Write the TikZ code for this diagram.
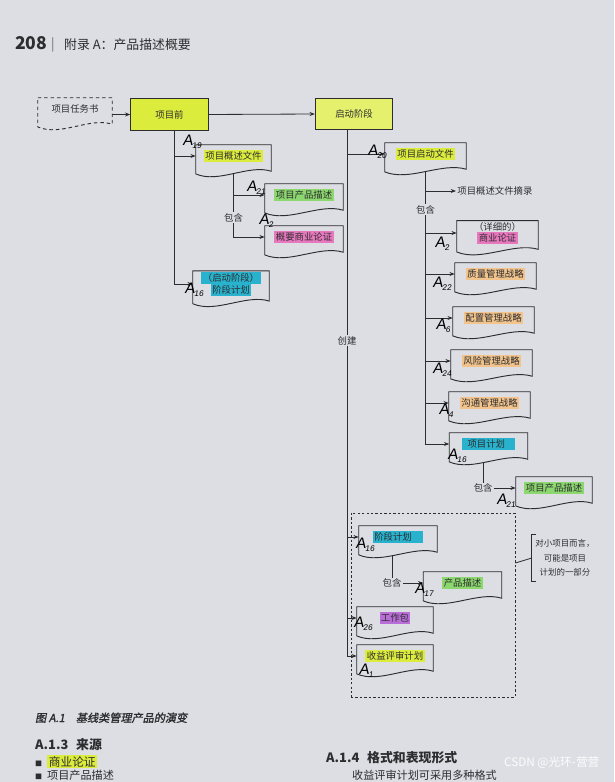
\documentclass[tikz,border=0pt]{standalone}
\usepackage{fontspec}
\setmainfont{Noto Sans CJK SC}
\newfontfamily\handfont[FakeSlant=0.15]{Liberation Sans}
\newfontfamily\capfont[FakeSlant=0.2,FakeBold=1.5]{Noto Sans CJK SC}
\usepackage{xcolor}
\usetikzlibrary{arrows.meta,positioning,fit,calc}

\definecolor{page}{RGB}{221,222,227}
\definecolor{ink}{RGB}{45,45,48}
\definecolor{hlyel}{RGB}{220,236,60}
\definecolor{hlgrn}{RGB}{140,215,110}
\definecolor{hlpnk}{RGB}{232,120,190}
\definecolor{hlcyn}{RGB}{40,178,205}
\definecolor{hlorg}{RGB}{242,196,140}
\definecolor{hlvio}{RGB}{185,110,215}

\newcommand\hlt[2]{{\setlength{\fboxsep}{1.2pt}\colorbox{#1}{#2}}}
\newcommand\hw[1]{{\handfont\fontsize{13}{13}\selectfont A\kern-0.5pt\raisebox{-0.35ex}{\fontsize{7}{7}\selectfont #1}}}

\begin{document}
\begin{tikzpicture}[
    x=0.3mm, y=-0.3mm,
    font=\fontsize{8}{10}\selectfont,
    doc/.style={minimum width=23.4mm, minimum height=6.6mm, inner sep=1pt, align=center, text=ink},
    docframe/.style={draw=ink, line width=0.8pt},
    proc/.style={draw=ink, line width=0.8pt, fill=hlyel, minimum width=23.2mm, minimum height=9.4mm, text=ink},
    link/.style={draw=ink, line width=0.7pt},
    arrow/.style={link, -{Stealth[length=1.6mm, width=1.2mm]}},
    lbl/.style={fill=page, inner sep=1pt, text=ink},
    hand/.style={inner sep=0pt, text=black},
    smallbox/.style={draw=ink, line width=0.8pt, dash pattern=on 2pt off 1.8pt, inner sep=0pt},
    note/.style={align=center, font=\fontsize{7.2}{12.6}\selectfont, text=ink, minimum width=19.8mm, minimum height=14.1mm, inner sep=1pt}
]
\useasboundingbox (0,0) rectangle (614,782);
\fill[page] (0,0) rectangle (614,782);

\node[anchor=base west, text=ink, font=\bfseries\fontsize{15}{15}\selectfont] (pg) at (11,50) {208};
\node[anchor=base west, text=ink!70, font=\fontsize{11}{11}\selectfont] (bar) at (47,49) {|};
\node[anchor=base west, text=ink, font=\fontsize{11}{11}\selectfont] (hd) at (60,50) {附录 A：产品描述概要};

\node[doc, minimum width=22.2mm] (task) at (75,109) {项目任务书};
\node[proc] (pre) at (169.5,114.5) {项目前};
\node[proc, fill=hlyel!75] (init) at (354,114) {启动阶段};

\node[doc, minimum width=22.5mm] (brief) at (233.5,156) {\hlt{hlyel}{项目概述文件}};
\node[doc] (ppd1) at (304,195) {\hlt{hlgrn}{项目产品描述}};
\node[doc] (obc) at (304,237) {\hlt{hlpnk}{概要商业论证}};
\node[doc, minimum width=22.8mm] (isp) at (231,284) {\hlt{hlcyn}{（启动阶段）}\\\hlt{hlcyn}{阶段计划}};

\node[doc, minimum width=24.3mm] (pid) at (425.5,154) {\hlt{hlyel}{项目启动文件}};
\node[anchor=west, text=ink, inner sep=1pt] (ext) at (456,191) {项目概述文件摘录};
\node[doc, minimum width=24.3mm] (dbc) at (497.5,233) {（详细的）\\\hlt{hlpnk}{商业论证}};
\foreach \n/\x/\y/\t in {qms/495.5/274/质量管理战略, cms/493.5/318/配置管理战略, rms/491.5/361/风险管理战略, com/489.5/403/沟通管理战略}
  \node[doc, minimum width=24.3mm] (\n) at (\x,\y) {\hlt{hlorg}{\t}};
\node[doc] (pp) at (488.5,444) {\hlt{hlcyn}{\hspace{1.2mm}项目计划\hspace{2.5mm}}};
\node[doc, minimum width=22.8mm] (ppd2) at (554,488) {\hlt{hlgrn}{项目产品描述}};

\node[doc] (sp) at (398,537) {\hlt{hlcyn}{阶段计划\hspace{3mm}}};
\node[doc] (pd) at (462.5,583) {\hlt{hlgrn}{产品描述}};
\node[doc, minimum width=22.8mm] (wp) at (395,618) {\hlt{hlvio}{工作包}};
\node[doc, minimum width=22.8mm] (brp) at (395,656) {\hlt{hlyel}{收益评审计划}};
\node[smallbox, fit={(351,513) (515,697)}] (small) {};
\node[note] (nt) at (565,558) {对小项目而言，\\可能是项目\\计划的一部分};

\draw[docframe, dash pattern=on 3pt off 2.5pt] (task.north west) -- (task.north east) -- ($(task.south east)+(0pt,-1.2mm)$)
  .. controls ($(task.south east)!0.3!(task.south west)+(0pt,1mm)$) and ($(task.south east)!0.7!(task.south west)+(0pt,-5mm)$)
  .. ($(task.south west)+(0pt,-2mm)$) -- cycle;
\foreach \n in {brief,ppd1,obc,isp,pid,dbc,qms,cms,rms,com,pp,ppd2,sp,pd,wp,brp}
  \draw[docframe] (\n.north west) -- (\n.north east) -- ($(\n.south east)+(0pt,-1.2mm)$)
    .. controls ($(\n.south east)!0.3!(\n.south west)+(0pt,1mm)$) and ($(\n.south east)!0.7!(\n.south west)+(0pt,-5mm)$)
    .. ($(\n.south west)+(0pt,-2mm)$) -- cycle;

\draw[arrow] (task.east |- pre.west) -- (pre.west);
\draw[arrow] (pre.east) -- (init.west);
\coordinate (t1) at ([xshift=1.5mm]pre.south);
\draw[arrow] (t1) |- (isp.west);
\draw[arrow] (t1 |- brief.west) -- (brief.west);
\coordinate (t4) at ([yshift=-1.9mm]brief.south);
\draw[arrow] (t4) |- node[lbl, pos=0.35] (c1) {包含} (obc.west);
\draw[arrow] (t4 |- ppd1.west) -- (ppd1.west);
\coordinate (t2) at ([xshift=-2.1mm]init.south);
\draw[arrow] (t2) |- node[lbl, pos=0.2] (mk) {创建} (brp.west);
\foreach \n in {pid,sp,wp}
  \draw[arrow] (t2 |- \n.west) -- (\n.west);
\coordinate (t3) at ([yshift=-1.9mm]pid.south);
\draw[arrow] (t3) |- node[lbl, pos=0.07] (c2) {包含} (pp.west);
\foreach \n in {ext,dbc,qms,cms,rms,com}
  \draw[arrow] (t3 |- \n.west) -- (\n.west);
\coordinate (t5) at ([xshift=-1.6mm,yshift=-2.2mm]pp.south);
\draw[arrow] (t5) |- node[lbl, pos=0.5] (c3) {包含} (ppd2.west);
\coordinate (t6) at ([xshift=-1.8mm,yshift=-2.2mm]sp.south);
\draw[arrow] (t6) |- node[lbl, pos=0.5] (c4) {包含} (pd.west);
\draw[link] ([xshift=1.2mm]nt.north west) -- (nt.north west) -- (nt.south west) -- ([xshift=1.2mm]nt.south west);
\draw[link] ($(small.east |- nt.west)+(0,5)$) -- (nt.west);

\foreach \n/\x/\y/\k in {h19/192/142/19, h21a/256/188/21, h2a/266/221/2, h16a/194/290/16, h20/377/152/20, h2b/442/244/2, h22/442/284/22, h6/443/326/6, h24/442/370/24, h4/446/411/4, h16b/457/456/16, h21b/506/501/21, h16c/365/545/16, h17/424/590/17, h26/363/624/26, h1/366/671/1}
  \node[hand] (\n) at (\x,\y) {\hw{\k}};

\node[anchor=base west, text=ink, font=\capfont\fontsize{9.5}{9.5}\selectfont] (cap) at (31,722) {图 A.1\quad 基线类管理产品的演变};
\node[anchor=base west, text=ink, font=\bfseries\fontsize{11}{11}\selectfont] (s13) at (31,749) {A.1.3\hspace{0.6em}来源};
\node[anchor=base west, text=ink, font=\fontsize{10}{10}\selectfont] (b1) at (31,766) {{\fontsize{6}{6}\selectfont ■}\ \ \hlt{hlyel}{商业论证}};
\node[anchor=base west, text=ink, font=\fontsize{9.5}{9.5}\selectfont] (b2) at (31,779) {{\fontsize{6}{6}\selectfont ■}\ \ 项目产品描述};
\node[anchor=base west, text=ink, font=\bfseries\fontsize{11}{11}\selectfont] (s14) at (322,762) {A.1.4\hspace{0.6em}格式和表现形式};
\node[anchor=base west, text=ink, font=\fontsize{9.5}{9.5}\selectfont] (p14) at (348,779) {收益评审计划可采用多种格式};
\node[anchor=base west, text=white!92!page, font=\fontsize{10}{10}\selectfont] (wm) at (500,766) {CSDN @光环-营营};
\end{tikzpicture}
\end{document}
